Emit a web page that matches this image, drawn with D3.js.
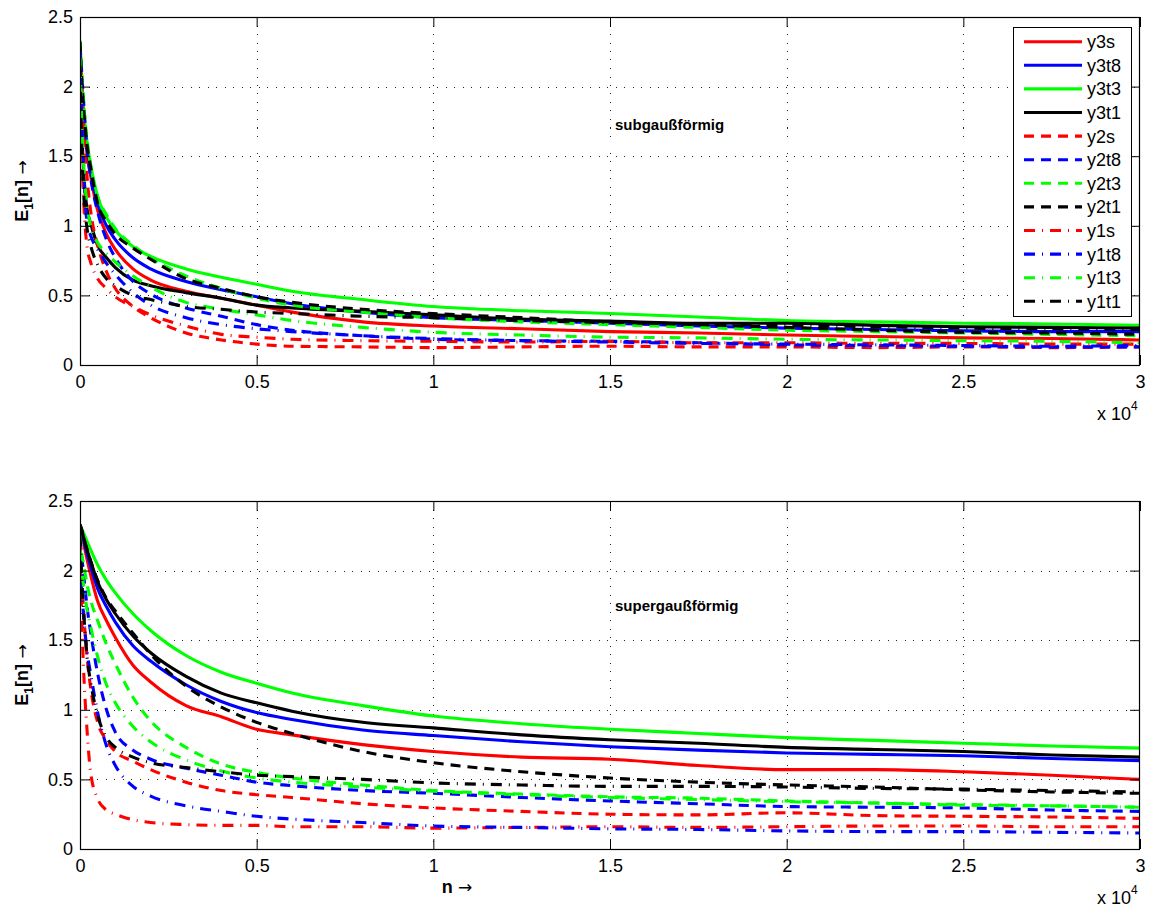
<!DOCTYPE html>
<html>
<head>
<meta charset="utf-8">
<script src="https://cdn.jsdelivr.net/npm/d3@7"></script>
<style>
  html, body { margin: 0; padding: 0; background: #fff; }
  svg { display: block; font-family: "Liberation Sans", Arial, sans-serif; }
</style>
</head>
<body>
<svg id="chart" width="1151" height="908"></svg>
<script>
// ---- data -------------------------------------------------------------
// sample index n at which the learning curves are tabulated
const N = [0, 50, 100, 200, 300, 500, 750, 1000, 1500, 2000, 3000, 4000, 5000, 6000,
           8000, 10000, 12500, 15000, 17500, 20000, 22500, 25000, 27500, 30000];

const seriesNames = ["y3s", "y3t8", "y3t3", "y3t1", "y2s", "y2t8", "y2t3", "y2t1",
                     "y1s", "y1t8", "y1t3", "y1t1"];

const xTicks = [0, 5000, 10000, 15000, 20000, 25000, 30000];
const xTickLabels = ["0", "0.5", "1", "1.5", "2", "2.5", "3"];
const yTicks = [0, 0.5, 1, 1.5, 2, 2.5];
const yTickLabels = ["0", "0.5", "1", "1.5", "2", "2.5"];

// subgaussian source
const sub_y3s  = [2.28,1.98,1.78,1.52,1.36,1.11,0.94,0.83,0.69,0.61,0.53,0.48,0.43,0.38,0.31,0.28,0.26,0.24,0.23,0.215,0.205,0.195,0.19,0.18];
const sub_y3t8 = [2.30,2.00,1.80,1.56,1.40,1.16,1.00,0.90,0.77,0.69,0.60,0.54,0.49,0.44,0.38,0.34,0.32,0.30,0.28,0.265,0.255,0.245,0.24,0.24];
const sub_y3t3 = [2.33,2.05,1.85,1.60,1.44,1.21,1.06,0.97,0.85,0.78,0.69,0.63,0.58,0.53,0.47,0.42,0.39,0.37,0.345,0.32,0.31,0.30,0.295,0.285];
const sub_y3t1 = [2.25,1.70,1.40,1.12,1.02,0.86,0.77,0.70,0.61,0.57,0.52,0.48,0.43,0.41,0.385,0.36,0.33,0.315,0.30,0.30,0.285,0.275,0.27,0.265];
const sub_y2s  = [2.25,2.00,1.75,1.35,1.11,0.86,0.67,0.55,0.42,0.34,0.23,0.18,0.15,0.135,0.13,0.125,0.13,0.135,0.13,0.13,0.125,0.13,0.125,0.13];
const sub_y2t8 = [2.30,2.10,1.90,1.55,1.35,1.10,0.90,0.77,0.60,0.51,0.41,0.35,0.29,0.25,0.21,0.185,0.175,0.17,0.16,0.145,0.14,0.135,0.13,0.13];
const sub_y2t3 = [2.33,2.10,1.90,1.62,1.44,1.21,1.08,0.98,0.86,0.77,0.64,0.55,0.48,0.43,0.38,0.34,0.31,0.29,0.27,0.25,0.24,0.23,0.22,0.21];
const sub_y2t1 = [2.32,2.05,1.85,1.58,1.42,1.16,1.03,0.94,0.84,0.76,0.62,0.55,0.49,0.45,0.40,0.37,0.34,0.31,0.29,0.27,0.25,0.235,0.23,0.22];
const sub_y1s  = [2.10,1.55,1.20,0.85,0.74,0.62,0.55,0.49,0.42,0.36,0.28,0.22,0.20,0.185,0.175,0.17,0.165,0.17,0.16,0.16,0.155,0.155,0.15,0.15];
const sub_y1t8 = [2.25,1.75,1.45,1.02,0.93,0.83,0.73,0.65,0.52,0.43,0.34,0.29,0.26,0.24,0.21,0.19,0.175,0.165,0.155,0.15,0.145,0.14,0.135,0.14];
const sub_y1t3 = [2.20,1.75,1.45,1.15,1.00,0.88,0.80,0.74,0.64,0.56,0.45,0.40,0.36,0.32,0.27,0.235,0.215,0.20,0.195,0.185,0.18,0.175,0.17,0.16];
const sub_y1t1 = [2.15,1.55,1.25,0.98,0.86,0.72,0.62,0.57,0.50,0.47,0.42,0.40,0.38,0.37,0.35,0.34,0.32,0.305,0.295,0.285,0.275,0.265,0.26,0.255];

// supergaussian source
const sup_y3s  = [2.33,2.27,2.20,2.08,1.97,1.78,1.64,1.52,1.32,1.20,1.03,0.95,0.86,0.82,0.75,0.70,0.66,0.645,0.60,0.57,0.57,0.555,0.53,0.50];
const sup_y3t8 = [2.33,2.28,2.22,2.12,2.03,1.87,1.74,1.63,1.46,1.35,1.18,1.06,0.98,0.93,0.855,0.815,0.77,0.735,0.71,0.69,0.68,0.67,0.65,0.635];
const sup_y3t3 = [2.33,2.30,2.27,2.21,2.15,2.04,1.93,1.84,1.69,1.57,1.39,1.27,1.19,1.12,1.03,0.955,0.90,0.86,0.83,0.80,0.78,0.76,0.74,0.725];
const sup_y3t1 = [2.33,2.29,2.24,2.15,2.07,1.92,1.79,1.69,1.53,1.41,1.24,1.12,1.05,0.99,0.91,0.87,0.82,0.785,0.76,0.73,0.715,0.70,0.675,0.66];
const sup_y2s  = [2.20,1.95,1.72,1.38,1.16,0.91,0.78,0.70,0.63,0.57,0.48,0.42,0.39,0.37,0.325,0.295,0.27,0.25,0.245,0.26,0.24,0.235,0.23,0.22];
const sup_y2t8 = [2.22,2.10,1.98,1.74,1.56,1.26,1.00,0.84,0.71,0.645,0.58,0.53,0.48,0.455,0.42,0.40,0.37,0.345,0.325,0.305,0.30,0.295,0.28,0.27];
const sup_y2t3 = [2.25,2.12,2.05,1.90,1.79,1.64,1.47,1.33,1.09,0.92,0.73,0.61,0.55,0.51,0.46,0.42,0.395,0.375,0.365,0.345,0.33,0.315,0.31,0.30];
const sup_y2t1 = [2.33,2.29,2.24,2.15,2.07,1.93,1.80,1.71,1.55,1.40,1.17,1.02,0.91,0.83,0.70,0.62,0.555,0.51,0.48,0.46,0.445,0.425,0.41,0.40];
const sup_y1s  = [2.20,1.65,1.30,0.85,0.55,0.36,0.28,0.25,0.21,0.19,0.175,0.17,0.17,0.16,0.16,0.15,0.155,0.16,0.155,0.16,0.165,0.165,0.16,0.16];
const sup_y1t8 = [2.10,1.85,1.68,1.42,1.26,0.98,0.74,0.60,0.45,0.38,0.31,0.27,0.235,0.215,0.19,0.165,0.155,0.145,0.14,0.13,0.125,0.125,0.12,0.115];
const sup_y1t3 = [2.15,2.00,1.90,1.72,1.60,1.38,1.18,1.05,0.88,0.77,0.64,0.56,0.51,0.48,0.445,0.415,0.39,0.37,0.355,0.34,0.33,0.32,0.31,0.30];
const sup_y1t1 = [2.25,1.95,1.72,1.38,1.20,0.96,0.80,0.73,0.66,0.62,0.585,0.555,0.53,0.52,0.50,0.475,0.46,0.45,0.45,0.445,0.435,0.43,0.42,0.41];

const subSeries = [sub_y3s, sub_y3t8, sub_y3t3, sub_y3t1, sub_y2s, sub_y2t8, sub_y2t3, sub_y2t1,
                   sub_y1s, sub_y1t8, sub_y1t3, sub_y1t1];
const supSeries = [sup_y3s, sup_y3t8, sup_y3t3, sup_y3t1, sup_y2s, sup_y2t8, sup_y2t3, sup_y2t1,
                   sup_y1s, sup_y1t8, sup_y1t3, sup_y1t1];

// ---- styling ------------------------------------------------------------
// colour follows the source type, dash pattern follows the output stage
function seriesColor(name) {
  if (name.endsWith("s")) return "#ff0000";
  if (name.endsWith("t8")) return "#0000ff";
  if (name.endsWith("t3")) return "#00ff00";
  return "#000000";
}
function seriesDash(name) {
  if (name.startsWith("y3")) return null;
  if (name.startsWith("y2")) return "10,7";
  return "11,7,1,7";
}

const svg = d3.select("#chart");
const FONT = 18;
const LINE_W = 3.1;
const LEFT = 80, RIGHT = 1140;

function arrowLabel(sel) {
  sel.append("tspan").attr("font-family", "'DejaVu Sans', sans-serif")
    .attr("font-size", 17).text(" \u2192");
}

function drawPanel(top, bottom, seriesList, note, showLegend, showXLabel, clipId) {
  const x = d3.scaleLinear().domain([0, 30000]).range([LEFT, RIGHT]);
  const y = d3.scaleLinear().domain([0, 2.5]).range([bottom, top]);
  const g = svg.append("g");

  g.append("rect").attr("x", LEFT).attr("y", top)
    .attr("width", RIGHT - LEFT).attr("height", bottom - top).attr("fill", "#fff");

  // dotted grid
  const grid = g.append("g").attr("stroke", "#222").attr("stroke-width", 1)
    .attr("stroke-dasharray", "1,7.5").attr("shape-rendering", "crispEdges");
  xTicks.slice(1, -1).forEach(t => {
    grid.append("line").attr("x1", Math.round(x(t)) + 0.5).attr("x2", Math.round(x(t)) + 0.5)
      .attr("y1", top).attr("y2", bottom);
  });
  yTicks.slice(1, -1).forEach(t => {
    grid.append("line").attr("y1", Math.round(y(t)) + 0.5).attr("y2", Math.round(y(t)) + 0.5)
      .attr("x1", LEFT).attr("x2", RIGHT);
  });

  // curves
  g.append("clipPath").attr("id", clipId).append("rect")
    .attr("x", LEFT).attr("y", top).attr("width", RIGHT - LEFT).attr("height", bottom - top);
  const line = d3.line().x(d => x(d[0])).y(d => y(d[1])).curve(d3.curveMonotoneX);
  const curves = g.append("g").attr("clip-path", `url(#${clipId})`);
  seriesNames.forEach((name, i) => {
    const pts = N.map((n, k) => [n, seriesList[i][k]]);
    curves.append("path").datum(pts)
      .attr("d", line)
      .attr("fill", "none")
      .attr("stroke", seriesColor(name))
      .attr("stroke-width", LINE_W)
      .attr("stroke-linejoin", "round")
      .attr("stroke-dasharray", seriesDash(name));
  });

  // axes: ticks point inward on all four sides
  const fmtX = (d) => xTickLabels[xTicks.indexOf(d)];
  const fmtY = (d) => yTickLabels[yTicks.indexOf(d)];
  const axB = g.append("g").attr("transform", `translate(0,${bottom})`)
    .call(d3.axisBottom(x).tickValues(xTicks).tickFormat(fmtX).tickSize(-10).tickPadding(10));
  const axL = g.append("g").attr("transform", `translate(${LEFT},0)`)
    .call(d3.axisLeft(y).tickValues(yTicks).tickFormat(fmtY).tickSize(-10).tickPadding(7));
  const axT = g.append("g").attr("transform", `translate(0,${top})`)
    .call(d3.axisTop(x).tickValues(xTicks).tickFormat("").tickSize(-10));
  const axR = g.append("g").attr("transform", `translate(${RIGHT},0)`)
    .call(d3.axisRight(y).tickValues(yTicks).tickFormat("").tickSize(-10));
  [axB, axL, axT, axR].forEach(a => {
    a.select(".domain").remove();
    a.selectAll("line").attr("stroke", "#000");
    a.selectAll("text").attr("font-size", FONT).attr("fill", "#000")
      .attr("font-family", "'Liberation Sans', Arial, sans-serif");
  });
  g.append("rect").attr("x", LEFT + 0.5).attr("y", top + 0.5)
    .attr("width", RIGHT - LEFT - 1).attr("height", bottom - top)
    .attr("fill", "none").attr("stroke", "#000").attr("stroke-width", 1.2);

  // exponent label
  const ex = g.append("text").attr("x", 1097).attr("y", bottom + 55)
    .attr("font-size", FONT).attr("fill", "#000");
  ex.append("tspan").text("x 10");
  ex.append("tspan").attr("dy", -10).attr("font-size", 12).text("4");

  // y label
  const ylab = g.append("text")
    .attr("transform", `translate(28,${(top + bottom) / 2}) rotate(-90)`)
    .attr("text-anchor", "middle").attr("font-size", FONT).attr("fill", "#000");
  ylab.append("tspan").attr("font-weight", "bold").text("E");
  ylab.append("tspan").attr("font-weight", "bold").attr("font-size", 12).attr("dy", 5).text("1");
  ylab.append("tspan").attr("font-weight", "bold").attr("dy", -5).text("[n]");
  arrowLabel(ylab);

  if (showXLabel) {
    const xl = g.append("text").attr("x", 457).attr("y", bottom + 44)
      .attr("text-anchor", "middle").attr("font-size", FONT).attr("fill", "#000");
    xl.append("tspan").attr("font-weight", "bold").text("n");
    arrowLabel(xl);
  }

  // annotation
  g.append("text").attr("x", 615).attr("y", top + note.dy)
    .attr("font-size", 15).attr("font-weight", "bold").attr("fill", "#000")
    .text(note.text);

  if (showLegend) {
    const lg = g.append("g");
    lg.append("rect").attr("x", 1013.5).attr("y", 27.5).attr("width", 118).attr("height", 289)
      .attr("fill", "#fff").attr("stroke", "#000").attr("stroke-width", 1);
    seriesNames.forEach((name, i) => {
      const yy = 41.7 + i * 23.6;
      lg.append("line").attr("x1", 1024).attr("x2", 1082).attr("y1", yy).attr("y2", yy)
        .attr("stroke", seriesColor(name)).attr("stroke-width", LINE_W)
        .attr("stroke-dasharray", seriesDash(name));
      lg.append("text").attr("x", 1087).attr("y", yy).attr("dy", "0.36em")
        .attr("font-size", FONT).attr("fill", "#000").text(name);
    });
  }
}

drawPanel(17, 365, subSeries, { text: "subgau\u00dff\u00f6rmig", dy: 113 }, true, false, "clipTop");
drawPanel(501, 849, supSeries, { text: "supergau\u00dff\u00f6rmig", dy: 110 }, false, true, "clipBottom");
</script>
</body>
</html>
